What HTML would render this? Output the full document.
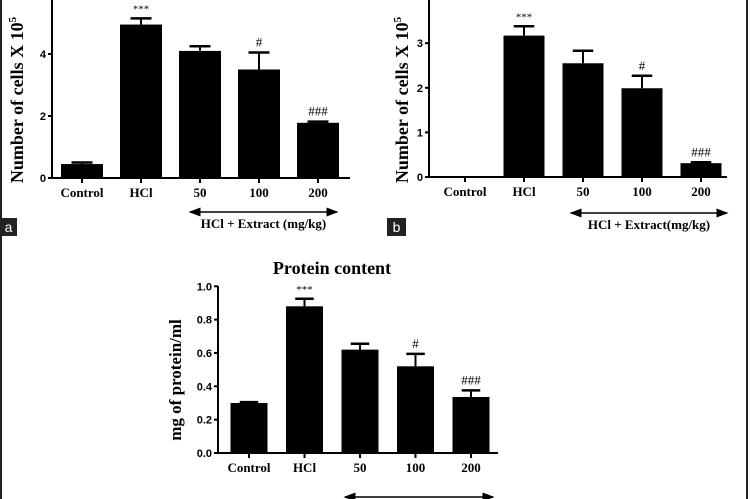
<!DOCTYPE html>
<html><head><meta charset="utf-8"><style>
body{margin:0;background:#fff}
svg{display:block;font-family:"Liberation Serif",serif}
.t{font-family:"Liberation Sans",sans-serif;font-weight:bold;font-size:11px}
</style></head><body>
<svg id="fig" width="750" height="499" viewBox="0 0 750 499">
<defs><marker id="ah" markerWidth="8" markerHeight="6" refX="7" refY="3" orient="auto-start-reverse"><path d="M0,0 L8,3 L0,6 Z" fill="#000"/></marker></defs>
<rect x="0" y="0" width="2" height="499" fill="#222"/>
<rect x="746" y="0" width="2" height="499" fill="#222"/>
<g><rect x="0" y="218" width="17" height="18" fill="#222"/><text x="8.5" y="232" fill="#fff" font-family="Liberation Sans" font-size="14" text-anchor="middle">a</text></g>
<g><rect x="387" y="218" width="19" height="18" fill="#222"/><text x="396.5" y="232" fill="#fff" font-family="Liberation Sans" font-size="14" text-anchor="middle">b</text></g>
<text x="332" y="274" font-size="18" font-weight="bold" text-anchor="middle">Protein content</text>
</svg>
<script>
const categories=["Control","HCl","50","100","200"];
const valuesA=[0.45,4.95,4.1,3.5,1.78];
const errorsA=[0.05,0.2,0.15,0.55,0.04];
const marksA=["","***","","#","###"];
const ticksA=[0,2,4];
const valuesB=[0,3.17,2.55,1.99,0.31];
const errorsB=[0,0.21,0.28,0.28,0.02];
const marksB=["","***","","#","###"];
const ticksB=[0,1,2,3];
const valuesC=[0.30,0.88,0.62,0.52,0.336];
const errorsC=[0.005,0.045,0.035,0.075,0.04];
const marksC=["","***","","#","###"];
const ticksC=["0.0","0.2","0.4","0.6","0.8","1.0"];
const NS="http://www.w3.org/2000/svg";
const svg=document.getElementById('fig');
function el(tag,attrs,parent){const e=document.createElementNS(NS,tag);for(const k in attrs)e.setAttribute(k,attrs[k]);(parent||svg).appendChild(e);return e;}
function panel(p,id){
  const g=el('g',{});
  
  
  const y=v=>p.y0-v*p.ky;
  const x=i=>p.x0+i*p.step;
  const ax=el('line',{x1:p.ax,y1:p.yTop,x2:p.ax,y2:p.y0,stroke:'#000','stroke-width':2},g);
  
  const xx=el('line',{x1:p.ax,y1:p.y0,x2:p.xEnd,y2:p.y0,stroke:'#000','stroke-width':2},g);
  
  p.ticks.forEach(t=>{
    const v=parseFloat(t);
    el('line',{x1:p.ax-4,y1:y(v),x2:p.ax,y2:y(v),stroke:'#000','stroke-width':2},g);
    const tl=el('text',{x:p.ax-6,y:y(v)+4,'text-anchor':'end',class:'t'},g);
    
    tl.textContent=t;
  });
  categories.forEach((c,i)=>{
    const cx=x(i),v=p.vals[i],e=p.errs[i];
    el('line',{x1:cx,y1:p.y0,x2:cx,y2:p.y0+5,stroke:'#000','stroke-width':2},g);
    const lab=el('text',{x:cx,y:p.y0+19,'text-anchor':'middle','font-size':13,'font-weight':'bold'},g);
    
    lab.textContent=c;
    if(v>0){
      const bar=el('rect',{x:cx-p.bw/2,y:y(v),width:p.bw,height:v*p.ky,fill:'#000'},g);
      
      el('line',{x1:cx,y1:y(v),x2:cx,y2:y(v+e),stroke:'#000','stroke-width':2},g);
      const cap=el('line',{x1:cx-p.bw/4,y1:y(v+e),x2:cx+p.bw/4,y2:y(v+e),stroke:'#000','stroke-width':2.5},g);
      
    }
    if(p.marks[i]){
      const m=el('text',{x:cx,y:y(v+e)-6,'text-anchor':'middle','font-size':p.marks[i]=='***'?11:13},g);
      
      m.textContent=p.marks[i];
    }
  });
  const ar=el('line',{x1:p.arr[0],y1:p.arr[2],x2:p.arr[1],y2:p.arr[2],stroke:'#000','stroke-width':1.5,'marker-start':'url(#ah)','marker-end':'url(#ah)'},g);
  
  if(p.arrText){
    const at=el('text',{x:(p.arr[0]+p.arr[1])/2,y:p.arr[2]+16,'text-anchor':'middle','font-size':13,'font-weight':'bold'},g);
    
    at.textContent=p.arrText;
  }
  const yt=el('text',{x:0,y:0,'text-anchor':'middle','font-size':p.ytSize,'font-weight':'bold',transform:`translate(${p.ytx},${p.yty}) rotate(-90)`},g);
  
  yt.innerHTML=p.ytitle;
}
panel({vals:valuesA,errs:errorsA,marks:marksA,ticks:ticksA,ax:52,y0:178,ky:31,yTop:0,xEnd:350,x0:82,step:59,bw:42,arr:[190,337,212],arrText:'HCl + Extract (mg/kg)',ytitle:'Number of cells X 10<tspan dy="-7" font-size="11">5</tspan>',ytx:23,yty:100,ytSize:18},'a');
panel({vals:valuesB,errs:errorsB,marks:marksB,ticks:ticksB,ax:429,y0:177,ky:44.6,yTop:0,xEnd:727,x0:465,step:59,bw:41,arr:[571,727,213],arrText:'HCl + Extract(mg/kg)',ytitle:'Number of cells X 10<tspan dy="-7" font-size="11">5</tspan>',ytx:408,yty:100,ytSize:18},'b');
panel({vals:valuesC,errs:errorsC,marks:marksC,ticks:ticksC,ax:218,y0:453,ky:166.7,yTop:286,xEnd:498,x0:249,step:55.5,bw:37,arr:[345,493,497],arrText:'',ytitle:'mg of protein/ml',ytx:181,yty:380,ytSize:17},'c');
</script>
</body></html>
